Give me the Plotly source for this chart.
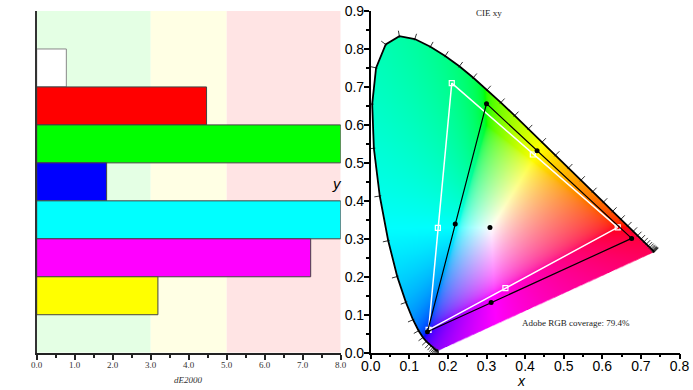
import base64, struct, zlib
import numpy as np
import plotly.graph_objects as go

# ---------------- data ----------------
bar_names = ["White", "Red", "Green", "Blue", "Cyan", "Magenta", "Yellow"]
bar_values = [0.78, 4.47, 8.0, 1.84, 8.0, 7.21, 3.19]
bar_colors = ["#ffffff", "#ff0000", "#00ff00", "#0000ff", "#00ffff", "#ff00ff", "#ffff00"]
bar_slots = [7.5, 6.5, 5.5, 4.5, 3.5, 2.5, 1.5]
zone_edges = [0, 3, 5, 8]
zone_colors = ["#e4ffe4", "#ffffe4", "#ffe4e4"]
de_ticks = [0, 1, 2, 3, 4, 5, 6, 7, 8]
de_ticklabels = ["0.0", "1.0", "2.0", "3.0", "4.0", "5.0", "6.0", "7.0", "8.0"]

locus_nm = list(range(380, 705, 5))
locus_x = [0.1741, 0.1740, 0.1738, 0.1736, 0.1733, 0.1730, 0.1726, 0.1721, 0.1714, 0.1703,
           0.1689, 0.1669, 0.1644, 0.1611, 0.1566, 0.1510, 0.1440, 0.1355, 0.1241, 0.1096,
           0.0913, 0.0687, 0.0454, 0.0235, 0.0082, 0.0039, 0.0139, 0.0389, 0.0743, 0.1142,
           0.1547, 0.1929, 0.2296, 0.2658, 0.3016, 0.3373, 0.3731, 0.4087, 0.4441, 0.4788,
           0.5125, 0.5448, 0.5752, 0.6029, 0.6270, 0.6482, 0.6658, 0.6801, 0.6915, 0.7006,
           0.7079, 0.7140, 0.7190, 0.7230, 0.7260, 0.7283, 0.7300, 0.7311, 0.7320, 0.7327,
           0.7334, 0.7340, 0.7344, 0.7346, 0.7347]
locus_y = [0.0050, 0.0050, 0.0049, 0.0049, 0.0048, 0.0048, 0.0048, 0.0048, 0.0051, 0.0058,
           0.0069, 0.0086, 0.0109, 0.0138, 0.0177, 0.0227, 0.0297, 0.0399, 0.0578, 0.0868,
           0.1327, 0.2007, 0.2950, 0.4127, 0.5384, 0.6548, 0.7502, 0.8120, 0.8338, 0.8262,
           0.8059, 0.7816, 0.7543, 0.7243, 0.6923, 0.6589, 0.6245, 0.5896, 0.5547, 0.5202,
           0.4866, 0.4544, 0.4242, 0.3965, 0.3725, 0.3514, 0.3340, 0.3197, 0.3083, 0.2993,
           0.2920, 0.2859, 0.2809, 0.2770, 0.2740, 0.2717, 0.2700, 0.2689, 0.2680, 0.2673,
           0.2666, 0.2660, 0.2656, 0.2654, 0.2653]

ref_prim_x = [0.64, 0.21, 0.15]      # Adobe RGB R, G, B
ref_prim_y = [0.33, 0.71, 0.06]
ref_sec_x = [0.174, 0.42, 0.349]     # C, Y, M
ref_sec_y = [0.329, 0.522, 0.170]
meas_prim_x = [0.676, 0.300, 0.147]
meas_prim_y = [0.301, 0.656, 0.055]
meas_sec_x = [0.219, 0.431, 0.312]
meas_sec_y = [0.339, 0.532, 0.132]
white_x = [0.309]
white_y = [0.330]
coverage_text = "Adobe RGB coverage: 79.4%"

# ---------------- chromaticity fill image ----------------
step = 0.00125
img_w_units, img_h_units = 0.75, 0.84
W = int(round(img_w_units / step)); H = int(round(img_h_units / step))
xs = (np.arange(W) + 0.5) * step
ys = img_h_units - (np.arange(H) + 0.5) * step
X, Y = np.meshgrid(xs, ys)
px = np.array(locus_x + [locus_x[0]]); py = np.array(locus_y + [locus_y[0]])
inside = np.zeros(X.shape, bool)
for i in range(len(px) - 1):
    xi, yi, xj, yj = px[i], py[i], px[i + 1], py[i + 1]
    if yi == yj:
        continue
    cond = ((yi > Y) != (yj > Y)) & (X < (xj - xi) * (Y - yi) / (yj - yi) + xi)
    inside ^= cond
Yc = np.maximum(Y, 1e-6)
XX = X / Yc; YY = np.ones_like(X); ZZ = (1 - X - Y) / Yc
M = np.array([[3.2406, -1.5372, -0.4986], [-0.9689, 1.8758, 0.0415], [0.0557, -0.2040, 1.0570]])
rgb = np.stack([M[k, 0] * XX + M[k, 1] * YY + M[k, 2] * ZZ for k in range(3)], -1)
rgb = rgb - np.minimum(rgb.min(-1, keepdims=True), 0)   # desaturate out-of-gamut by adding white
rgb = rgb / np.maximum(rgb.max(-1, keepdims=True), 1e-9)
rgb = np.clip(rgb, 0, 1)
rgb = np.where(rgb <= 0.0031308, 12.92 * rgb, 1.055 * np.power(rgb, 1 / 2.4) - 0.055)
rgba = np.zeros((H, W, 4), np.uint8)
rgba[..., :3] = np.clip(rgb * 255, 0, 255).astype(np.uint8)
rgba[..., 3] = np.where(inside, 255, 0)


def png_bytes(arr):
    h, w = arr.shape[:2]
    raw = b"".join(b"\x00" + arr[r].tobytes() for r in range(h))

    def chunk(t, d):
        return struct.pack(">I", len(d)) + t + d + struct.pack(">I", zlib.crc32(t + d) & 0xffffffff)

    return (b"\x89PNG\r\n\x1a\n" + chunk(b"IHDR", struct.pack(">IIBBBBB", w, h, 8, 6, 0, 0, 0))
            + chunk(b"IDAT", zlib.compress(raw, 9)) + chunk(b"IEND", b""))


img_src = "data:image/png;base64," + base64.b64encode(png_bytes(rgba)).decode()

# ---------------- figure ----------------
fig = go.Figure()
SERIF = "Liberation Serif"
SANS = "Liberation Sans"

# left bar chart
fig.add_trace(go.Bar(
    x=bar_values, y=bar_slots, orientation="h", width=1,
    marker=dict(color=bar_colors, line=dict(color=["#888888"] + ["#444444"] * 6, width=1)),
    xaxis="x", yaxis="y", showlegend=False, hoverinfo="skip"))

shapes = []
for i in range(3):
    shapes.append(dict(type="rect", xref="x", yref="y", x0=zone_edges[i], x1=zone_edges[i + 1],
                       y0=0, y1=9, fillcolor=zone_colors[i], line=dict(width=0), layer="below"))

# CIE diagram: wavelength ticks on the locus
sx, sy = 386.0, 379.7
tx, ty = [], []
n = len(locus_x)
for i in range(n):
    a = max(i - 1, 0); b = min(i + 1, n - 1)
    dx = (locus_x[b] - locus_x[a]) * sx; dy = (locus_y[b] - locus_y[a]) * sy
    L = (dx * dx + dy * dy) ** 0.5 or 1
    nx, ny = -dy / L, dx / L
    vx = (locus_x[i] - 0.3127) * sx; vy = (locus_y[i] - 0.329) * sy
    if nx * vx + ny * vy < 0:
        nx, ny = -nx, -ny
    tx += [locus_x[i] - nx * 1.5 / sx, locus_x[i] + nx * 5.5 / sx, None]
    ty += [locus_y[i] - ny * 1.5 / sy, locus_y[i] + ny * 5.5 / sy, None]
fig.add_trace(go.Scatter(x=tx, y=ty, mode="lines", line=dict(color="#333333", width=1),
                         xaxis="x2", yaxis="y2", showlegend=False, hoverinfo="skip"))
fig.add_trace(go.Scatter(x=locus_x, y=locus_y, mode="lines", line=dict(color="black", width=1.8),
                         xaxis="x2", yaxis="y2", showlegend=False, hoverinfo="skip"))

# reference (Adobe RGB) triangle
fig.add_trace(go.Scatter(x=ref_prim_x + [ref_prim_x[0]], y=ref_prim_y + [ref_prim_y[0]], mode="lines",
                         line=dict(color="white", width=1.5), xaxis="x2", yaxis="y2",
                         showlegend=False, hoverinfo="skip"))
fig.add_trace(go.Scatter(x=ref_prim_x + ref_sec_x, y=ref_prim_y + ref_sec_y, mode="markers",
                         marker=dict(symbol="square-open", size=5, color="white", line=dict(width=1.2)),
                         xaxis="x2", yaxis="y2", showlegend=False, hoverinfo="skip"))
# measured triangle
fig.add_trace(go.Scatter(x=meas_prim_x + [meas_prim_x[0]], y=meas_prim_y + [meas_prim_y[0]], mode="lines",
                         line=dict(color="black", width=1.2), xaxis="x2", yaxis="y2",
                         showlegend=False, hoverinfo="skip"))
fig.add_trace(go.Scatter(x=meas_prim_x + meas_sec_x + white_x, y=meas_prim_y + meas_sec_y + white_y,
                         mode="markers", marker=dict(size=5, color="black"),
                         xaxis="x2", yaxis="y2", showlegend=False, hoverinfo="skip"))


def note(text, xpx, ypx, family, size, color="#222"):
    return dict(text=text, xref="paper", yref="paper", x=xpx / 693, y=1 - ypx / 390,
                xanchor="center", yanchor="middle", showarrow=False,
                font=dict(family=family, size=size, color=color))


axis_common = dict(automargin=False, showgrid=False, zeroline=False)
fig.update_layout(
    width=693, height=390, margin=dict(l=0, r=0, t=0, b=0, pad=0, autoexpand=False),
    paper_bgcolor="white", plot_bgcolor="rgba(0,0,0,0)",
    shapes=shapes,
    images=[dict(source=img_src, xref="x2", yref="y2", x=0, y=img_h_units,
                 sizex=img_w_units, sizey=img_h_units, sizing="stretch", layer="below")],
    xaxis=dict(domain=[36.7 / 693, 340.7 / 693], range=[0, 8], anchor="y",
               tickvals=de_ticks, ticktext=de_ticklabels, ticks="outside", ticklen=5, tickwidth=1.5,
               tickcolor="#222", showline=True, linecolor="#222", linewidth=2, ticklabelstandoff=-3,
               tickfont=dict(family=SERIF, size=9, color="#333"),
               minor=dict(dtick=0.5, ticks="outside", ticklen=3, tickcolor="#222", tickwidth=1.5),
               **axis_common),
    yaxis=dict(domain=[(390 - 352.7) / 390, (390 - 11) / 390], range=[0, 9], anchor="x",
               showline=True, linecolor="#333", linewidth=2, showticklabels=False, ticks="",
               **axis_common),
    xaxis2=dict(domain=[370.7 / 693, 679.5 / 693], range=[0, 0.8], anchor="y2",
                dtick=0.1, tickformat=".1f", ticks="outside", ticklen=5, tickwidth=1.5, tickcolor="black",
                showline=True, linecolor="black", linewidth=1.5, ticklabelstandoff=-5,
                tickfont=dict(family=SANS, size=14, color="black"),
                minor=dict(dtick=0.05, ticks="outside", ticklen=3, tickcolor="black", tickwidth=1.5),
                **axis_common),
    yaxis2=dict(domain=[(390 - 352.7) / 390, (390 - 11) / 390], range=[0, 0.9], anchor="x2",
                dtick=0.1, tickformat=".1f", ticks="outside", ticklen=5, tickwidth=1.5, tickcolor="black",
                showline=True, linecolor="black", linewidth=1.5, ticklabelstandoff=-3,
                tickfont=dict(family=SANS, size=14, color="black"),
                minor=dict(dtick=0.05, ticks="outside", ticklen=3, tickcolor="black", tickwidth=1.5),
                **axis_common),
    annotations=[
        note("<i>dE2000</i>", 188, 380, SERIF, 9, "#333"),
        note("CIE xy", 489, 13.5, SERIF, 9),
        note(coverage_text, 576, 322.5, SERIF, 9),
        note("<i>x</i>", 521, 381, SANS, 14, "black"),
        note("<i>y</i>", 337, 183, SANS, 15, "black"),
    ],
)

fig.write_html("out.html", config={"displayModeBar": False},
               post_script="document.body.style.margin='0px';document.body.style.padding='0px';")
